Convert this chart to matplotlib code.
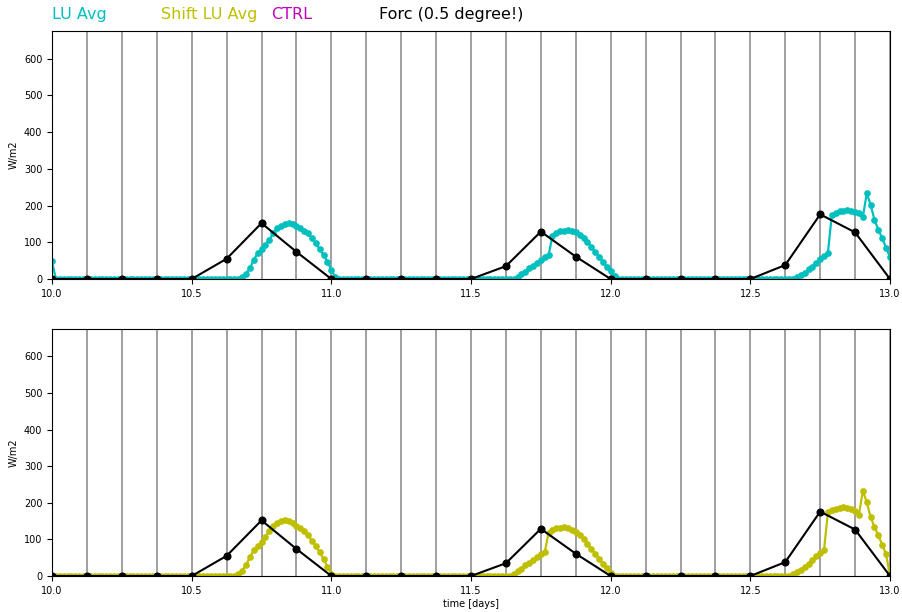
"""Surface forcing vs. land-use averaged radiation over three days."""

import matplotlib

matplotlib.use("Agg")
import matplotlib.pyplot as plt
import numpy as np

# 20-minute model output, day 10.0 to 13.0
steps_per_day = 72
t_start, t_end = 10.0, 13.0

# LU average (W/m2); night-time values are zero
lu_first = 48  # value at t = 10.0
lu_day1_start = 49  # index of first value below
lu_day1 = [6, 15, 29, 52, 70, 81, 93, 106, 124, 138, 145, 150, 152,
           150, 145, 138, 132, 124, 111, 97, 81, 65, 47, 25, 6]
lu_day2_start = 120
lu_day2 = [6, 13, 20, 29, 36, 43, 52, 61, 65,
           118, 126, 130, 132, 134, 132, 127, 120, 111, 102, 88,
           74, 61, 47, 34, 22, 8]
lu_day3_start = 192
lu_day3 = [5, 11, 17, 26, 34, 43, 54, 63, 72,
           174, 181, 184, 186, 188, 186, 183, 179, 168, 233, 202,
           161, 134, 111, 85, 59]

# 3-hourly forcing (0.5 degree)
forc_step = 0.125
forc = [0, 0, 0, 0, 0, 55, 152, 74,
        0, 0, 0, 0, 0, 35, 129, 61,
        0, 0, 0, 0, 0, 38, 176, 127,
        0]

n = int((t_end - t_start) * steps_per_day) + 1
t = t_start + np.arange(n) / steps_per_day
lu = np.zeros(n)
lu[0] = lu_first
for start, vals in [(lu_day1_start, lu_day1), (lu_day2_start, lu_day2),
                    (lu_day3_start, lu_day3)]:
    lu[start:start + len(vals)] = vals
# shifted series: one output step earlier
lu_shift = np.append(lu[1:], 0)

forc_t = t_start + np.arange(len(forc)) * forc_step

fig = plt.figure(figsize=(9.03, 6.12), dpi=100)
ax1 = fig.add_axes([0.0576, 0.5441, 0.928, 0.4052])
ax2 = fig.add_axes([0.0576, 0.0588, 0.928, 0.4036])

for ax, series, color in [(ax1, lu, "c"), (ax2, lu_shift, "y")]:
    for x in np.arange(t_start, t_end + 1e-9, forc_step):
        ax.axvline(x, color="0.6", linewidth=1.3, zorder=1)
    ax.plot(t, series, "o-", color=color, linewidth=1.6, markersize=3.8, zorder=2)
    ax.plot(forc_t, forc, "o-", color="k", linewidth=1.5, markersize=4.8, zorder=3)
    ax.set_xlim(t_start, t_end)
    ax.set_ylim(0, 675)
    ax.set_yticks(np.arange(0, 700, 100))
    ax.set_xticks(np.arange(t_start, t_end + 0.01, 0.5))
    ax.tick_params(labelsize=7)
    ax.set_ylabel("W/m2", fontsize=7)

ax2.set_xlabel("time [days]", fontsize=7, labelpad=2)

# colour-coded legend along the top
y_txt = 0.969
fig.text(0.058, y_txt, "LU Avg", color="c", fontsize=11.5, va="baseline")
fig.text(0.178, y_txt, "Shift LU Avg", color="y", fontsize=11.5, va="baseline")
fig.text(0.300, y_txt, "CTRL", color="m", fontsize=11.5, va="baseline")
fig.text(0.420, y_txt, "Forc (0.5 degree!)", color="k", fontsize=11.5, va="baseline")

fig.savefig("out.png", dpi=100)
